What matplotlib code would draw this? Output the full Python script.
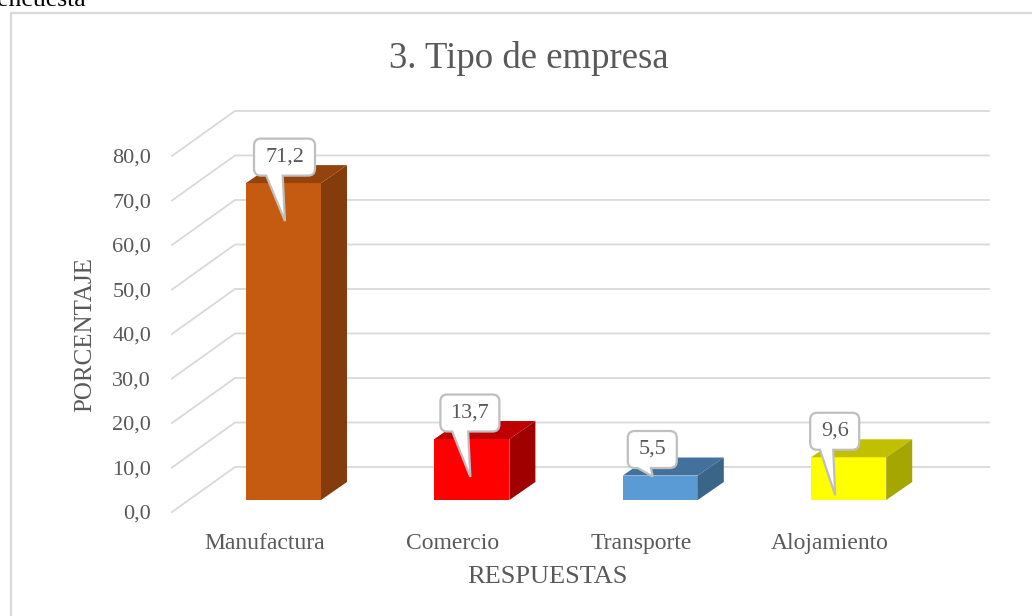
import matplotlib
matplotlib.use('Agg')
import matplotlib.pyplot as plt
from matplotlib.patches import Polygon, PathPatch, Rectangle
from matplotlib.path import Path

categorias = ['Manufactura', 'Comercio', 'Transporte', 'Alojamiento']
valores = [71.2, 13.7, 5.5, 9.6]
ticks_y = [0, 10, 20, 30, 40, 50, 60, 70, 80]
cor_frente = ['#C55A11', '#FF0000', '#5B9BD5', '#FFFF00']
cor_topo = ['#94430D', '#C00000', '#41719C', '#C0C000']
cor_lado = ['#843C0C', '#A00000', '#3A6488', '#A6A600']

# ajuste das caixas de rotulo, em pixels, relativo a cada barra
rot_dx = [1, -2, -8, -14]
rot_larg = [61, 59, 49, 49]
rot_ponta = [38, 38, 1, 38]

W, H = 1032, 616
plt.rcParams['font.family'] = ['Liberation Serif', 'DejaVu Serif']
cinza = '#595959'
grade = '#D9D9D9'

fig = plt.figure(figsize=(W / 100, H / 100), dpi=100)

# eixo: esquerda 172, direita 989, y=0 em 512, y=90 em 111 (pixels)
esq, dir_, base, topo = 172, 989, 512, 111
ax = fig.add_axes([esq / W, 1 - base / H, (dir_ - esq) / W, (base - topo) / H])
px_x = 188.4            # pixels por categoria
px_y = (base - topo) / 90.1   # pixels por unidade
x0 = (esq - 283.5) / px_x
ax.set_xlim(x0, x0 + (dir_ - esq) / px_x)
ax.set_ylim(0, 90.1)
ax.patch.set_alpha(0)
for s in ax.spines.values():
    s.set_visible(False)


def dx(p):
    return p / px_x


def dy(p):
    return p / px_y


# grade com a parede lateral em perspectiva
for v in ticks_y:
    ax.plot([x0, x0 + dx(63), x0 + (dir_ - esq) / px_x], [v, v + dy(45), v + dy(45)],
            color=grade, lw=1.3, clip_on=False, zorder=1, solid_joinstyle='miter')

# barras 3D
larg = dx(75)
fundo_x, fundo_y = dx(26), dy(18)
piso = dy(12)
for i, v in enumerate(valores):
    e = i - larg / 2
    d = i + larg / 2
    t = piso + v
    ax.add_patch(Rectangle((e, piso), larg, v, fc=cor_frente[i], ec='none', zorder=3))
    ax.add_patch(Polygon([(e, t), (d, t), (d + fundo_x, t + fundo_y), (e + fundo_x, t + fundo_y)],
                         fc=cor_topo[i], ec='none', zorder=3))
    ax.add_patch(Polygon([(d, piso), (d + fundo_x, piso + fundo_y), (d + fundo_x, t + fundo_y), (d, t)],
                         fc=cor_lado[i], ec='none', zorder=3))


def balao(x, y, texto, larg_px, ponta_px):
    alt = 37
    r = 7
    e, d = -larg_px / 2, larg_px / 2
    b, t = 7.5, 7.5 + alt
    # ponta sai da parte de baixo da caixa, no lado esquerdo do centro
    b1, b2 = e + larg_px * 0.2, e + larg_px * 0.47
    pts = [(e + r, b), (b1, b), (0.5, -ponta_px), (b2, b), (d - r, b),
           (d, b), (d, b + r), (d, t - r), (d, t), (d - r, t), (e + r, t),
           (e, t), (e, t - r), (e, b + r), (e, b), (e + r, b)]
    cod = [Path.MOVETO, Path.LINETO, Path.LINETO, Path.LINETO, Path.LINETO,
           Path.CURVE3, Path.CURVE3, Path.LINETO, Path.CURVE3, Path.CURVE3, Path.LINETO,
           Path.CURVE3, Path.CURVE3, Path.LINETO, Path.CURVE3, Path.CURVE3]
    verts = [(x + dx(a), y + dy(c)) for a, c in pts]
    ax.add_patch(PathPatch(Path(verts, cod), fc='white', ec='#BFBFBF', lw=1.6, zorder=5, clip_on=False))
    ax.text(x, y + dy(b + alt / 2), texto, ha='center', va='center', fontsize=16, color=cinza, zorder=6)


for i, v in enumerate(valores):
    balao(i + dx(rot_dx[i]), piso + v, f'{v:.1f}'.replace('.', ','), rot_larg[i], rot_ponta[i])

ax.set_yticks(ticks_y)
ax.set_yticklabels([f'{v:.1f}'.replace('.', ',') for v in ticks_y], fontsize=16, color=cinza)
ax.set_xticks([i - dx(19) for i in range(len(categorias))])
ax.set_xticklabels(categorias, fontsize=17, color=cinza)
ax.tick_params(length=0)
ax.tick_params(axis='y', pad=15)
ax.tick_params(axis='x', pad=15)

fig.text(529 / W, 1 - 58 / H, '3. Tipo de empresa', fontsize=26.5, color=cinza, ha='center', va='center')
fig.text(547 / W, 1 - 577 / H, 'RESPUESTAS', fontsize=19, color=cinza, ha='center', va='center')
fig.text(85 / W, 1 - 335 / H, 'PORCENTAJE', fontsize=18, color=cinza, ha='center', va='center', rotation=90)
fig.text(-3 / W, 1 - 6 / H, 'encuesta', fontsize=18.5, color='black', ha='left', va='baseline')

# marco do grafico
fig.add_artist(plt.Line2D([10.5 / W, 10.5 / W, 1032 / W], [0, 1 - 13 / H, 1 - 13 / H], color='#D9D9D9', lw=1.6))

fig.savefig('out.png', dpi=100)
